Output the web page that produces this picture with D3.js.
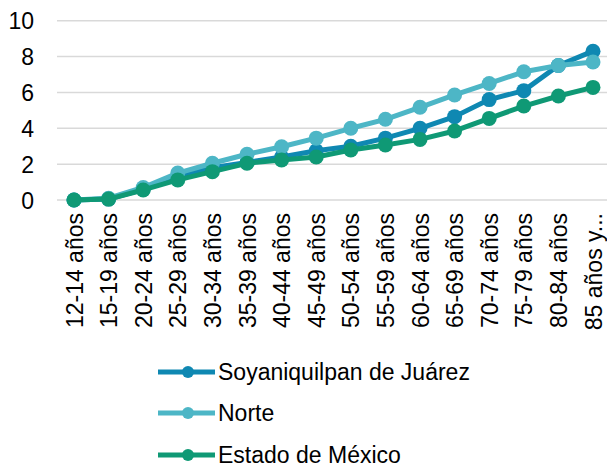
<!DOCTYPE html>
<html><head><meta charset="utf-8">
<script src="https://cdn.jsdelivr.net/npm/d3@7"></script>
<style>body{margin:0;background:#fff}svg{display:block;font-family:"Liberation Sans",Arial,sans-serif}</style>
</head><body><svg id="c" width="607" height="473"></svg>
<script>
const categories = ["12-14 años","15-19 años","20-24 años","25-29 años","30-34 años","35-39 años","40-44 años","45-49 años","50-54 años","55-59 años","60-64 años","65-69 años","70-74 años","75-79 años","80-84 años","85 años y..."];
const seriesNames = ["Soyaniquilpan de Juárez","Norte","Estado de México"];
const soyaniquilpan = [0,0.05,0.6,1.3,1.8,2.1,2.4,2.75,3.0,3.45,4.0,4.65,5.6,6.1,7.5,8.3];
const norte = [0,0.1,0.7,1.5,2.05,2.55,2.97,3.45,4.0,4.5,5.17,5.86,6.5,7.15,7.5,7.7];
const estado = [0,0.05,0.56,1.12,1.58,2.05,2.23,2.4,2.79,3.07,3.38,3.85,4.55,5.24,5.8,6.28];
const yTicks = [0,2,4,6,8,10];
const colors = ["#0F88B2","#4DB6C6","#0F9975"];

const svg = d3.select("#c");
const x = d3.scalePoint().domain(categories).range([74,593]);
const y = d3.scaleLinear().domain([0,10]).range([200,20.7]);
const FS = 23;

svg.append("g").selectAll("line").data(yTicks).join("line")
  .attr("x1",57).attr("x2",607).attr("y1",d=>y(d)).attr("y2",d=>y(d))
  .attr("stroke","#d9d9d9").attr("stroke-width",1.5);

const yAxis = d3.axisLeft(y).tickValues(yTicks).tickSize(0).tickPadding(0);
const gy = svg.append("g").attr("transform","translate(34,0)").call(yAxis);
gy.select(".domain").remove();
gy.selectAll("text").attr("font-size",FS).attr("fill","#000").attr("font-family","Liberation Sans, Arial, sans-serif").attr("dy","0.35em");

const xAxis = d3.axisBottom(x).tickSize(0).tickPadding(0);
const gx = svg.append("g").attr("transform","translate(0,213)").call(xAxis);
gx.select(".domain").remove();
gx.selectAll("text").attr("font-size",FS).attr("fill","#000").attr("font-family","Liberation Sans, Arial, sans-serif")
  .attr("text-anchor","end").attr("transform","rotate(-90)").attr("x",0).attr("y",0).attr("dy","0.35em");

const data = [soyaniquilpan, norte, estado];
const line = d3.line().x((d,i)=>x(categories[i])).y(d=>y(d));
data.forEach((vals,k)=>{
  const g = svg.append("g");
  g.append("path").datum(vals).attr("d",line).attr("fill","none").attr("stroke",colors[k]).attr("stroke-width",5).attr("stroke-linejoin","round");
  g.selectAll("circle").data(vals).join("circle").attr("cx",(d,i)=>x(categories[i])).attr("cy",d=>y(d)).attr("r",7.5).attr("fill",colors[k]);
});

const legY = [372,413,455];
const lg = svg.append("g");
seriesNames.forEach((n,k)=>{
  lg.append("line").attr("x1",158).attr("x2",215).attr("y1",legY[k]).attr("y2",legY[k]).attr("stroke",colors[k]).attr("stroke-width",5);
  lg.append("circle").attr("cx",188).attr("cy",legY[k]).attr("r",6).attr("fill",colors[k]);
  lg.append("text").attr("x",218).attr("y",legY[k]).attr("dy","0.35em").attr("font-size",FS).attr("fill","#000").text(n);
});
</script></body></html>
